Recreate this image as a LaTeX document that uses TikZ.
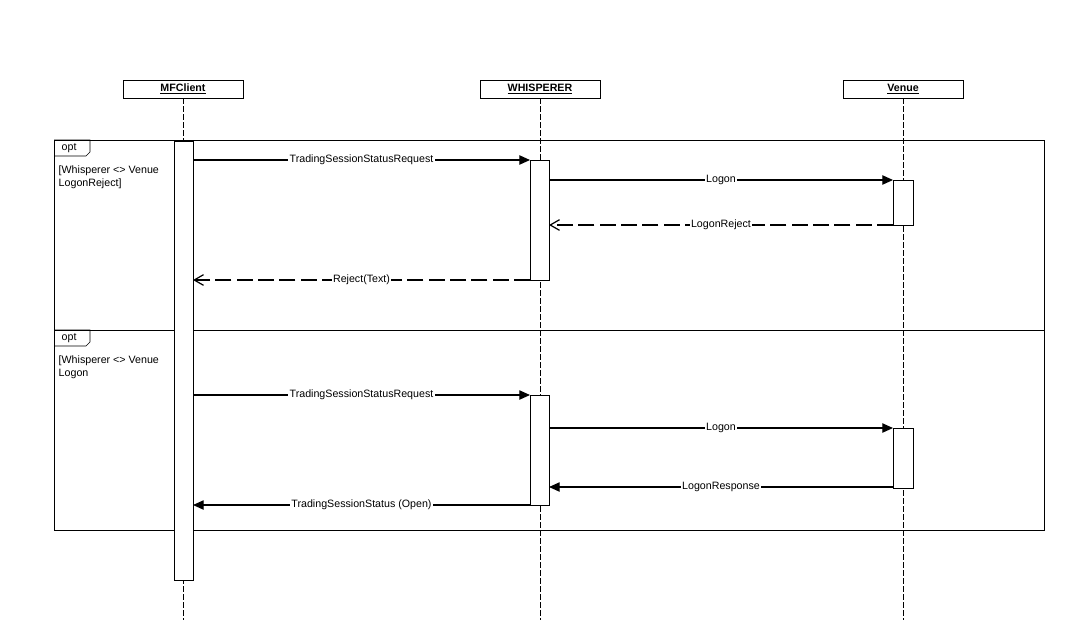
\documentclass[tikz,border=0pt]{standalone}
\usepackage{fontspec}
\setmainfont{Liberation Sans}
\usetikzlibrary{arrows.meta}
\begin{document}
\begin{tikzpicture}[x=0.75pt,y=-0.75pt,font=\fontsize{8}{9.5}\selectfont,
  head/.style={draw, minimum width=90pt, minimum height=13.5pt, inner sep=0pt, font=\fontsize{8}{9.5}\selectfont\bfseries},
  life/.style={dashed, dash pattern=on 4pt off 2pt},
  bar/.style={draw, fill=white},
  msg/.style={-{Triangle[length=8pt,width=7pt]}, line width=0.9pt},
  ret/.style={-{Straight Barb[length=7pt,width=8pt]}, line width=0.9pt, dash pattern=on 12pt off 4pt},
  lbl/.style={fill=white, inner sep=1pt}]
\useasboundingbox (0,0) rectangle (1066,640);
\node [head] (mf) at (183,89) {\underline{MFClient}};
\node [head] (wh) at (540,89) {\underline{WHISPERER}};
\node [head] (ve) at (903,89) {\underline{Venue}};
\coordinate (mfe) at (183,620);
\coordinate (whe) at (540,620);
\coordinate (vee) at (903,620);
\draw [life] (mf.south) -- (mfe);
\draw [life] (wh.south) -- (whe);
\draw [life] (ve.south) -- (vee);
% frames
\draw (54,140) rectangle (1044,330);
\draw (54,330) rectangle (1044,530);
\draw (54,140) -- (90,140) -- (90,152) -- (86,156) -- (54,156);
\draw (54,330) -- (90,330) -- (90,342) -- (86,346) -- (54,346);
\node [right] at (57,148) {opt};
\node [right] at (57,338) {opt};
\node [right, align=left, anchor=north west] at (54,161) {[Whisperer <> Venue\\LogonReject]};
\node [right, align=left, anchor=north west] at (54,351) {[Whisperer <> Venue\\Logon};
% activation bars
\draw [bar] (174,141) rectangle (193,580);
\draw [bar] (530,160) rectangle (549,280);
\draw [bar] (893,180) rectangle (913,225);
\draw [bar] (530,395) rectangle (549,505);
\draw [bar] (893,428) rectangle (913,488);
% message ends
\coordinate (a1) at (193,160); \coordinate (b1) at (530,160);
\coordinate (a2) at (549,180); \coordinate (b2) at (893,180);
\coordinate (a3) at (893,225); \coordinate (b3) at (549,225);
\coordinate (a4) at (530,280); \coordinate (b4) at (193,280);
\coordinate (a5) at (193,395); \coordinate (b5) at (530,395);
\coordinate (a6) at (549,428); \coordinate (b6) at (893,428);
\coordinate (a7) at (893,487); \coordinate (b7) at (549,487);
\coordinate (a8) at (530,505); \coordinate (b8) at (193,505);
\draw [msg] (a1) -- node [lbl] {TradingSessionStatusRequest} (b1);
\draw [msg] (a2) -- node [lbl] {Logon} (b2);
\draw [ret] (a3) -- node [lbl] {LogonReject} (b3);
\draw [ret] (a4) -- node [lbl] {Reject(Text)} (b4);
\draw [msg] (a5) -- node [lbl] {TradingSessionStatusRequest} (b5);
\draw [msg] (a6) -- node [lbl] {Logon} (b6);
\draw [msg] (a7) -- node [lbl] {LogonResponse} (b7);
\draw [msg] (a8) -- node [lbl] {TradingSessionStatus (Open)} (b8);
\end{tikzpicture}
\end{document}
